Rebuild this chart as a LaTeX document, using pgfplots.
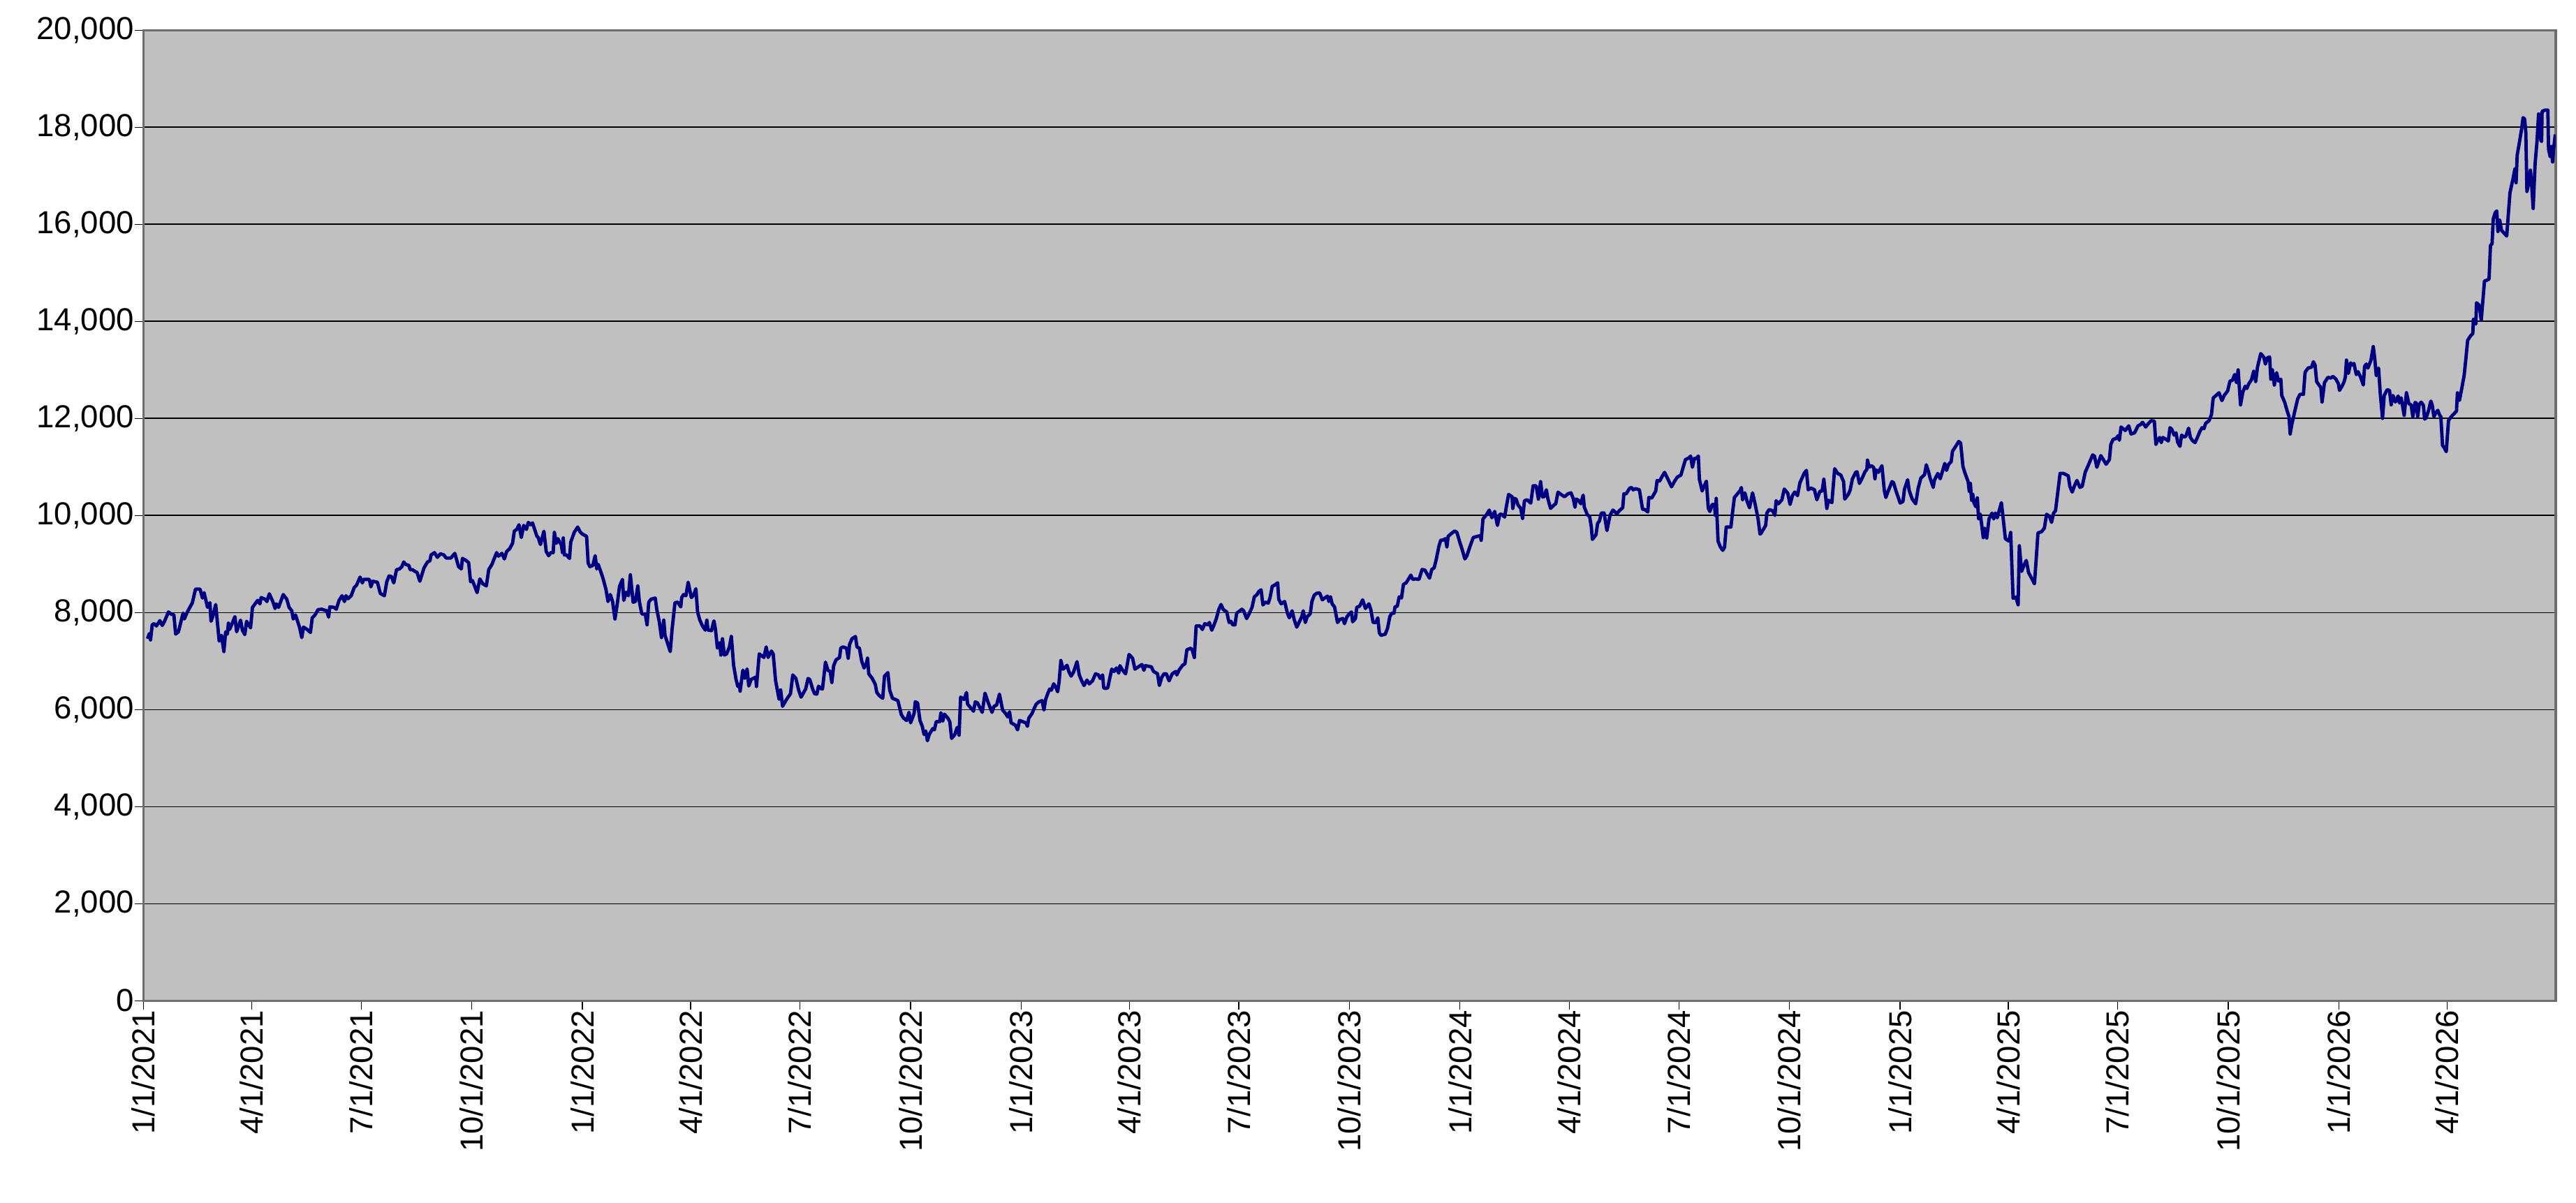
\documentclass[border=0pt]{standalone}
\usepackage{fontspec}
\setmainfont{Liberation Sans}
\usepackage{pgfplots}
\pgfplotsset{compat=1.18}
\definecolor{plotbg}{RGB}{192,192,192}
\definecolor{navyline}{RGB}{0,0,128}
\definecolor{framegray}{RGB}{110,110,110}
\begin{document}
\begin{tikzpicture}
\begin{axis}[
  scale only axis, width=863.6bp, height=347.5bp,
  xmin=0, xmax=2006.4, ymin=0, ymax=20000,
  axis background/.style={fill=plotbg},
  axis line style={draw=framegray, line width=0.8bp},
  ymajorgrids, major grid style={black, line width=0.35bp},
  tick align=outside, major tick length=3.25bp,
  tick style={black, line width=0.3bp},
  xtick pos=bottom, ytick pos=left,
  xtick={0,90,181,273,365,455,546,638,730,820,911,1003,1095,1186,1277,1369,1461,1551,1642,1734,1826,1916},
  xticklabels={1/1/2021,4/1/2021,7/1/2021,10/1/2021,1/1/2022,4/1/2022,7/1/2022,10/1/2022,1/1/2023,4/1/2023,7/1/2023,10/1/2023,1/1/2024,4/1/2024,7/1/2024,10/1/2024,1/1/2025,4/1/2025,7/1/2025,10/1/2025,1/1/2026,4/1/2026},
  ytick={0,2000,4000,6000,8000,10000,12000,14000,16000,18000,20000},
  scaled y ticks=false,
  /pgf/number format/1000 sep={,},
  /pgf/number format/assume math mode=true,
  tick label style={font=\fontsize{11.4bp}{13bp}\selectfont},
  xticklabel style={rotate=90, anchor=east, inner sep=0pt},
  yticklabel style={anchor=east, inner sep=0pt},
]
\addplot[navyline, line width=1.2bp, line join=round, mark=none] table {
x y
3.3 7458
4.8 7564
5.8 7434
7.2 7746
8.7 7770
10.7 7722
13.6 7832
15.5 7731
17.4 7818
20.7 8010
23.2 7962
25.2 7952
26.7 7554
29.0 7602
32.9 7986
33.9 7866
36.2 8000
40.6 8201
43.2 8480
47.0 8480
49.0 8297
50.3 8408
53.2 8106
55.2 8201
56.1 7818
57.5 7914
60.0 8163
62.9 7410
64.8 7530
66.8 7194
68.3 7602
69.7 7554
70.6 7779
71.6 7650
76.0 7914
77.4 7602
80.7 7842
82.2 7636
84.2 7544
85.7 7818
89.0 7683
90.6 8106
94.9 8249
96.8 8177
97.8 8307
101.1 8273
102.6 8225
104.6 8384
107.5 8225
109.4 8082
110.4 8177
112.3 8106
116.2 8369
119.1 8273
121.0 8106
123.3 8034
124.5 7866
126.4 7947
129.7 7698
131.6 7482
133.0 7698
136.1 7650
138.8 7588
140.3 7890
142.3 7938
145.2 8058
148.1 8067
152.4 8034
153.9 7904
154.9 8115
158.4 8106
160.3 8067
162.6 8249
165.1 8345
167.1 8225
168.4 8345
170.0 8283
172.7 8345
175.2 8513
177.1 8561
180.1 8729
182.0 8609
183.0 8681
187.8 8681
189.1 8528
190.7 8643
194.5 8623
196.9 8393
200.3 8345
202.3 8633
204.2 8753
206.2 8739
208.1 8609
210.4 8882
212.9 8897
214.9 8945
216.4 9041
217.8 8993
220.7 8969
221.7 8882
223.6 8882
225.6 8849
227.5 8825
229.8 8643
233.3 8921
236.2 9041
238.2 9065
239.1 9185
242.0 9233
244.4 9137
246.9 9209
249.8 9185
251.7 9122
255.6 9122
258.9 9218
262.0 8945
264.3 8897
265.2 9113
268.1 9074
270.4 9026
272.0 8633
273.5 8657
275.5 8537
277.4 8408
279.7 8691
282.0 8595
285.1 8547
287.1 8882
289.8 8993
291.3 9089
293.7 9233
295.2 9161
298.1 9218
300.1 9103
302.0 9257
304.5 9314
306.9 9424
308.4 9679
310.4 9712
312.3 9808
314.2 9544
316.2 9794
318.5 9712
320.0 9856
322.0 9808
323.5 9846
327.2 9568
328.1 9554
330.1 9400
333.0 9674
334.9 9257
336.9 9170
338.8 9233
340.7 9233
341.7 9650
343.3 9424
344.6 9520
347.5 9391
348.5 9233
349.1 9535
350.0 9185
351.8 9185
354.3 9113
355.3 9448
358.2 9650
361.1 9760
363.0 9664
365.0 9616
368.5 9568
369.8 9017
371.2 8945
373.7 8969
375.6 9170
377.0 8897
378.1 8993
380.5 8825
382.4 8681
384.7 8465
386.3 8225
388.2 8369
390.1 8225
392.1 7866
394.0 8177
395.9 8537
398.3 8681
399.4 8249
401.4 8417
403.3 8345
404.9 8777
407.2 8211
409.1 8225
411.1 8547
412.4 8225
414.4 7971
417.3 7962
418.8 7746
420.2 8211
422.1 8273
425.6 8297
426.9 8058
428.9 7818
430.8 7482
432.7 7842
433.7 7530
435.6 7386
438.1 7194
439.5 7626
442.0 8201
444.3 8211
446.8 8115
447.6 8307
449.2 8369
451.1 8345
453.0 8623
455.6 8307
457.5 8355
459.4 8489
460.8 8010
462.7 7842
464.7 7731
467.2 7636
468.5 7842
469.5 7636
472.4 7626
474.4 7827
475.7 7650
477.3 7266
479.2 7376
480.2 7122
481.5 7458
483.1 7122
485.0 7146
487.3 7290
488.9 7506
490.8 6907
492.8 6619
494.3 6475
495.6 6523
496.2 6379
498.5 6811
500.1 6643
502.0 6835
503.4 6484
505.3 6619
509.2 6667
509.8 6475
512.1 7146
516.0 7074
517.9 7290
519.5 7074
522.2 7204
523.7 7146
525.7 6595
528.6 6211
529.9 6403
531.5 6067
534.8 6207
538.1 6327
540.0 6712
542.6 6640
544.9 6399
546.9 6255
550.7 6423
552.7 6640
554.2 6615
556.5 6423
558.1 6327
560.0 6317
561.4 6481
563.3 6433
564.7 6423
567.2 6976
569.2 6808
571.1 6784
572.5 6558
574.0 6904
576.0 7024
578.9 7072
579.9 7265
581.8 7289
584.7 7265
586.1 7058
587.2 7337
589.2 7457
592.1 7505
593.4 7289
595.4 7265
597.3 7000
599.3 6856
601.2 6952
602.2 7058
603.2 6736
606.1 6640
608.6 6519
609.9 6351
611.9 6288
614.8 6231
616.3 6688
619.1 6760
620.6 6399
622.9 6231
625.4 6207
627.4 6183
630.3 5894
632.2 5822
634.7 5774
636.7 5942
638.0 5726
640.9 5918
641.9 6159
643.8 6135
645.8 5774
647.7 5654
649.2 5486
650.6 5558
652.0 5356
653.5 5486
656.4 5606
657.8 5582
659.3 5750
662.2 5750
663.2 5933
664.7 5760
666.1 5904
669.0 5822
670.6 5750
672.1 5404
674.8 5486
676.7 5630
678.3 5471
679.6 6255
682.5 6207
684.5 6351
685.4 6111
687.9 6038
690.3 5966
691.8 6159
693.7 6135
697.6 5942
699.9 6337
702.3 6159
705.7 5942
707.3 6063
709.6 6096
711.9 6317
714.5 5990
717.0 5918
718.9 5846
720.3 5952
721.6 5726
725.1 5678
727.0 5582
728.6 5774
731.3 5750
733.8 5726
735.2 5654
736.3 5822
739.0 5918
740.6 6014
742.5 6111
744.8 6159
747.4 6183
748.9 5990
750.3 6207
752.2 6337
753.7 6423
755.1 6399
757.0 6529
759.0 6447
760.3 6365
761.5 6567
763.0 7010
764.8 6832
766.1 6856
768.1 6913
769.6 6784
771.5 6688
773.5 6769
776.4 6986
778.3 6712
780.3 6591
782.2 6495
784.7 6606
786.6 6529
789.3 6591
791.8 6736
794.3 6712
795.7 6640
797.7 6712
798.6 6447
800.1 6433
802.0 6447
803.4 6615
805.3 6832
807.2 6784
809.2 6856
811.1 6750
812.1 6904
814.4 6808
816.8 6736
819.7 7135
822.6 7058
824.6 6832
827.5 6880
830.4 6928
832.0 6808
833.3 6904
838.2 6880
840.1 6784
843.4 6736
844.9 6495
846.9 6664
848.8 6736
850.7 6736
853.0 6591
855.6 6736
858.5 6784
859.4 6712
861.4 6817
864.3 6913
866.2 6942
867.8 7231
871.1 7264
872.4 7216
874.0 7072
875.5 7721
878.8 7721
880.7 7649
882.7 7769
885.2 7745
886.5 7793
888.5 7635
890.4 7745
892.3 7875
894.3 8058
896.2 8164
898.1 8058
901.0 8010
902.0 7890
903.0 7793
904.5 7817
905.9 7745
907.8 7745
909.2 7986
911.1 8019
913.6 8067
915.0 8034
917.5 7875
919.4 7962
922.0 8106
923.9 8322
926.2 8370
927.6 8433
929.5 8466
931.1 8154
933.0 8212
935.5 8192
936.9 8298
938.8 8539
940.8 8563
943.3 8611
944.2 8274
946.2 8178
949.1 8226
951.4 7986
953.0 7890
955.3 8034
957.2 7841
959.2 7697
961.5 7817
963.4 7914
964.6 8034
966.3 7793
967.9 7914
970.4 7971
971.8 8226
973.7 8356
975.7 8394
978.2 8404
980.5 8260
982.4 8298
984.8 8337
985.9 8226
987.3 8322
988.6 8178
990.6 8116
993.1 7793
995.0 7856
997.5 7875
998.9 7769
1000.8 7904
1002.8 7971
1004.7 8010
1005.7 7808
1008.0 7875
1009.1 8106
1011.5 8130
1014.0 8260
1016.3 8082
1019.2 8178
1020.8 8058
1022.7 7793
1025.0 7793
1026.6 7890
1027.9 7577
1029.3 7529
1032.8 7553
1034.7 7673
1036.6 7914
1038.2 7986
1040.1 7986
1040.9 8116
1042.8 8130
1044.4 8322
1046.3 8298
1047.9 8577
1050.2 8611
1054.1 8769
1055.6 8683
1058.0 8692
1060.9 8683
1063.4 8885
1065.7 8875
1069.6 8707
1071.5 8885
1073.5 8921
1075.4 9113
1077.3 9352
1078.9 9487
1081.2 9496
1082.8 9520
1084.1 9352
1085.1 9568
1088.0 9631
1090.5 9679
1092.4 9650
1094.8 9448
1096.7 9304
1099.0 9103
1100.6 9161
1103.5 9376
1106.0 9544
1109.3 9568
1111.8 9583
1112.6 9487
1114.1 9928
1117.0 10014
1119.3 10110
1121.5 9952
1123.8 10082
1126.1 9794
1128.1 10024
1129.6 10024
1132.1 9966
1133.5 10177
1135.4 10432
1138.3 10384
1138.9 10144
1140.3 10350
1141.6 10336
1143.2 10216
1145.5 10144
1147.0 9938
1148.6 10302
1150.9 10321
1153.8 10254
1155.8 10609
1158.3 10609
1160.2 10336
1162.0 10695
1163.5 10384
1164.9 10384
1166.8 10527
1168.0 10350
1170.3 10144
1173.2 10216
1174.6 10240
1176.5 10480
1179.0 10432
1181.9 10384
1184.8 10446
1187.3 10465
1189.3 10336
1190.6 10168
1191.6 10336
1193.5 10312
1195.5 10240
1197.4 10417
1198.4 10168
1200.9 10014
1202.8 9976
1204.2 9760
1205.1 9506
1208.1 9602
1209.4 9832
1211.0 9890
1212.5 10048
1214.8 10048
1217.2 9688
1219.7 10000
1222.2 10110
1225.5 10034
1227.4 10096
1230.3 10158
1231.3 10446
1233.2 10446
1236.1 10561
1237.7 10575
1239.0 10527
1241.0 10552
1244.2 10527
1246.8 10129
1248.7 10120
1251.2 10072
1252.0 10369
1254.5 10360
1257.8 10504
1258.9 10719
1260.9 10705
1262.8 10791
1265.1 10887
1268.0 10743
1270.9 10590
1273.8 10719
1275.8 10791
1278.7 10830
1280.6 10993
1282.5 11151
1285.4 11185
1286.8 11223
1288.3 10993
1289.9 11175
1291.2 11165
1293.2 11223
1294.1 10743
1296.4 10504
1298.0 10600
1299.9 10705
1301.5 10144
1302.8 10082
1304.8 10225
1306.7 10225
1307.3 10000
1308.1 10350
1309.6 9472
1311.5 9352
1313.5 9280
1315.0 9343
1316.4 9760
1320.3 9760
1321.6 10048
1323.2 10369
1326.1 10456
1328.0 10513
1329.0 10575
1330.0 10321
1331.9 10465
1333.8 10288
1335.8 10158
1338.3 10465
1340.6 10216
1342.9 9928
1344.5 9616
1345.3 9630
1347.3 9712
1349.2 9793
1350.2 10048
1352.1 10120
1355.0 10096
1356.9 10000
1357.9 10303
1359.8 10240
1362.7 10322
1364.7 10543
1367.6 10457
1369.5 10226
1371.5 10409
1373.4 10481
1375.7 10409
1377.7 10673
1381.2 10865
1383.1 10928
1384.6 10529
1386.9 10563
1389.8 10529
1391.8 10322
1394.3 10495
1396.2 10505
1397.6 10745
1400.1 10144
1401.4 10313
1404.3 10264
1406.6 10962
1409.1 10865
1411.7 10832
1414.0 10697
1415.0 10337
1417.9 10433
1419.4 10514
1421.4 10755
1424.1 10889
1425.2 10899
1427.2 10659
1429.5 10769
1431.8 10899
1433.4 10947
1433.9 11139
1435.3 10995
1437.2 11024
1439.1 10986
1440.1 10755
1441.1 10938
1443.0 10889
1445.9 11024
1447.9 10514
1449.2 10370
1450.8 10481
1454.3 10697
1455.6 10673
1457.6 10505
1459.5 10370
1461.1 10255
1463.4 10288
1464.7 10543
1467.3 10736
1468.6 10514
1471.1 10337
1474.0 10240
1476.0 10553
1478.3 10769
1481.4 10841
1482.8 11043
1484.7 10899
1486.0 10769
1488.6 10577
1489.5 10721
1492.4 10865
1494.4 10755
1496.9 10962
1498.2 11072
1499.6 10928
1501.5 11058
1503.5 11106
1504.6 11322
1506.9 11409
1509.8 11524
1511.4 11490
1513.3 11010
1515.1 10865
1517.6 10697
1518.6 10495
1519.5 10659
1520.5 10313
1521.5 10433
1522.4 10264
1524.0 10178
1525.3 10361
1526.3 9928
1527.8 10024
1530.2 9543
1531.5 9736
1533.1 9534
1535.0 9928
1537.5 10048
1538.9 9928
1540.2 10048
1541.8 9952
1545.3 10264
1546.6 9976
1548.6 9519
1551.5 9471
1553.0 9649
1555.0 8293
1557.3 8317
1559.2 8158
1560.2 9375
1562.1 8846
1564.1 8976
1566.0 9072
1567.9 8822
1570.5 8702
1572.8 8591
1574.4 9159
1575.7 9639
1578.6 9663
1581.0 9736
1582.9 10024
1585.4 9976
1587.0 9856
1588.7 10048
1590.3 10096
1594.1 10865
1597.0 10865
1600.9 10817
1602.2 10601
1604.2 10481
1606.1 10611
1608.1 10721
1610.6 10577
1612.5 10601
1615.0 10889
1617.4 11024
1621.2 11246
1622.7 11222
1624.7 10992
1628.0 11232
1630.9 11116
1632.4 11054
1635.1 11150
1636.3 11462
1638.2 11568
1640.5 11582
1642.5 11645
1643.4 11549
1644.8 11822
1648.3 11750
1651.2 11846
1653.1 11678
1656.0 11702
1658.9 11846
1660.9 11870
1662.8 11918
1665.3 11822
1667.6 11894
1669.9 11952
1672.5 11942
1673.8 11462
1675.4 11558
1676.9 11606
1678.3 11501
1679.6 11606
1682.2 11568
1684.1 11534
1685.5 11808
1687.0 11774
1689.0 11654
1690.5 11702
1691.9 11510
1693.8 11424
1695.2 11654
1697.1 11616
1698.7 11630
1701.0 11798
1702.5 11606
1704.5 11534
1706.4 11501
1708.3 11606
1710.3 11726
1712.2 11808
1713.8 11789
1715.1 11894
1718.0 11952
1720.0 12077
1721.5 12423
1723.8 12471
1726.3 12528
1728.7 12365
1730.6 12471
1733.5 12567
1735.4 12768
1737.4 12783
1739.3 12903
1740.9 12735
1742.2 12999
1744.2 12279
1746.1 12543
1748.1 12663
1749.4 12615
1751.0 12711
1753.3 12797
1755.2 12975
1756.8 12759
1758.3 13056
1761.0 13335
1763.5 13263
1764.9 13119
1766.5 13249
1768.4 13263
1769.4 12807
1770.7 12999
1772.3 12687
1774.2 12941
1775.8 12768
1777.7 12807
1778.5 12471
1781.0 12327
1782.9 12158
1784.5 12038
1785.5 11678
1786.8 11870
1789.3 12144
1791.7 12399
1793.6 12495
1796.5 12495
1797.9 12951
1800.4 13037
1803.3 13056
1804.8 13167
1806.2 13095
1807.5 12759
1810.1 12663
1811.0 12639
1812.0 12336
1814.0 12735
1816.9 12845
1819.2 12831
1821.1 12864
1823.6 12807
1825.6 12711
1826.5 12576
1828.8 12672
1830.4 12759
1831.4 12855
1832.3 13201
1833.9 12927
1835.8 13143
1837.8 13095
1838.5 13133
1840.5 12903
1842.0 12960
1844.0 12855
1846.3 12687
1847.4 13071
1848.8 13119
1850.1 13037
1852.6 13191
1854.6 13479
1855.9 13215
1857.1 12879
1859.0 13037
1860.4 12519
1862.3 12000
1863.7 12471
1866.2 12591
1868.1 12576
1869.5 12279
1871.0 12471
1873.0 12336
1875.3 12461
1876.4 12317
1877.8 12423
1880.3 12062
1882.2 12528
1884.2 12303
1886.1 12279
1887.5 12038
1889.4 12327
1890.4 12317
1891.5 12036
1892.8 12283
1894.4 12335
1896.3 12268
1897.3 11985
1898.6 12010
1900.6 12165
1902.5 12356
1903.7 12268
1905.0 12036
1906.6 12113
1908.3 12165
1909.9 12062
1910.8 12036
1912.2 11443
1913.7 11392
1915.3 11314
1917.2 11959
1919.5 12036
1921.9 12098
1923.8 12149
1924.6 12526
1926.3 12371
1928.3 12629
1930.2 12887
1931.6 13222
1933.1 13608
1935.4 13696
1937.4 13748
1937.9 14047
1939.9 13943
1940.5 14382
1942.8 14330
1944.4 14021
1945.7 14407
1947.1 14830
1949.0 14846
1950.9 14871
1952.1 15567
1953.4 15593
1954.4 16109
1956.0 16237
1957.3 16274
1958.3 15851
1959.8 16083
1961.2 15877
1964.1 15799
1965.6 15758
1967.0 16222
1968.3 16650
1970.8 16933
1972.4 17140
1973.4 16856
1974.3 17423
1976.1 17680
1978.0 17964
1979.2 18196
1980.5 18170
1981.5 17887
1982.4 16676
1983.8 16830
1985.3 17114
1986.3 16830
1987.6 16325
1989.2 17243
1990.7 17680
1992.1 18273
1993.0 18015
1994.0 17732
1994.6 17706
1995.0 18325
1997.3 18351
1999.8 18351
2000.4 17552
2001.7 17397
2002.7 17603
2003.7 17284
2004.6 17552
2006.0 17851
};
\end{axis}
\pgfresetboundingbox
\path[use as bounding box] (-51.4bp,-72.4bp) rectangle (870.85bp,358.3bp);
\end{tikzpicture}
\end{document}
